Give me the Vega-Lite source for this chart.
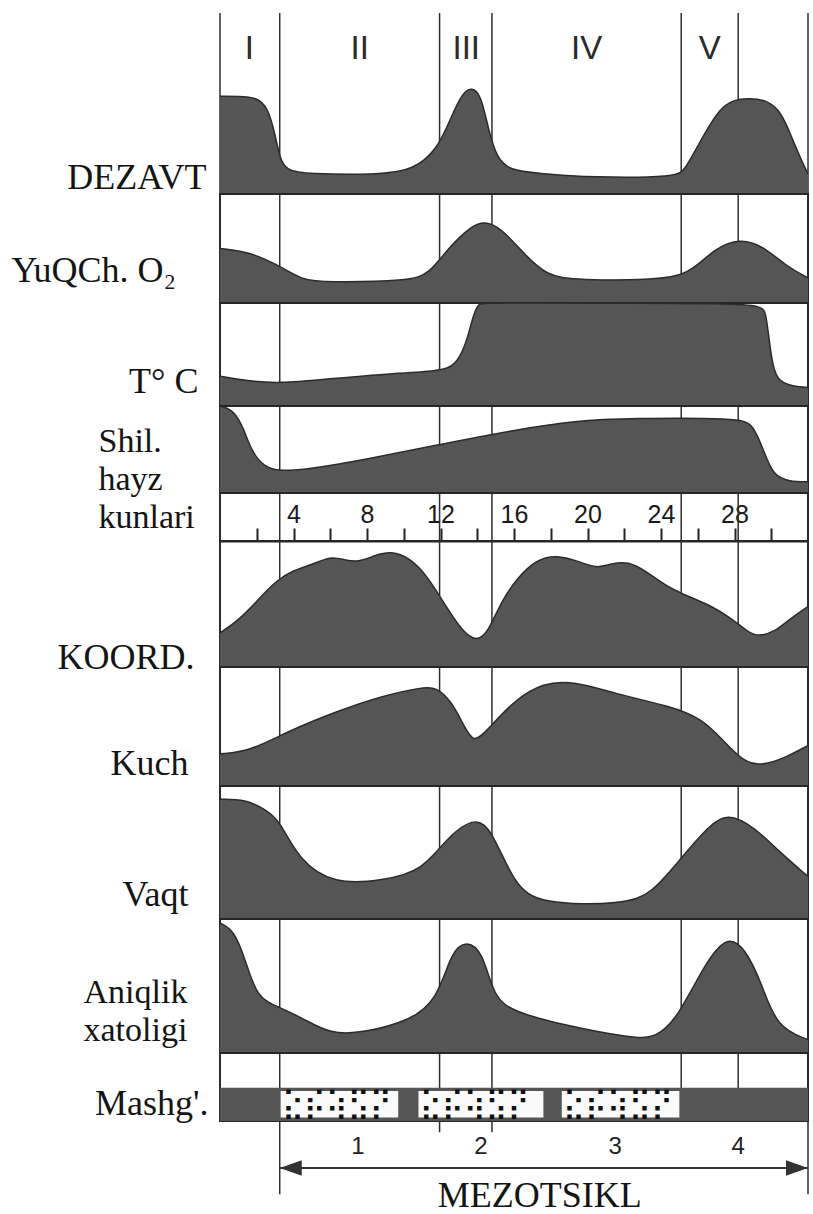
{
  "$schema": "https://vega.github.io/schema/vega-lite/v6.json",
  "background": "white",
  "padding": {"left": 10, "top": 12, "right": 0, "bottom": 0},
  "spacing": 0,
  "bounds": "flush",
  "config": {
    "view": {"stroke": "#262626", "strokeWidth": 2},
    "axisY": {"labels": false, "ticks": false, "domain": false, "grid": false, "titleAngle": 0, "titleFont": "Liberation Serif", "titleFontSize": 36, "titleFontWeight": "normal", "titleColor": "#141414", "titleAlign": "right", "titleBaseline": "middle", "titleLineHeight": 38},
    "area": {"color": "#555555", "opacity": 1, "fillOpacity": 1, "interpolate": "basis", "line": {"color": "#2b2b2b", "strokeWidth": 1.5, "interpolate": "basis"}},
    "rule": {"color": "#2e2e2e", "strokeWidth": 1.5}
  },
  "datasets": {
    "phases": [{"day": 0}, {"day": 3.25}, {"day": 11.95}, {"day": 14.8}, {"day": 25.1}, {"day": 28.2}, {"day": 32}],
    "phaseLabels": [{"phase": "I", "day": 1.6}, {"phase": "II", "day": 7.6}, {"phase": "III", "day": 13.4}, {"phase": "IV", "day": 19.95}, {"phase": "V", "day": 26.65}],
    "dezavt": [{"day": 0, "v": 0.54}, {"day": 1, "v": 0.54}, {"day": 2, "v": 0.535}, {"day": 2.6, "v": 0.48}, {"day": 3.0, "v": 0.33}, {"day": 3.25, "v": 0.2}, {"day": 3.6, "v": 0.13}, {"day": 4.7, "v": 0.11}, {"day": 8.9, "v": 0.107}, {"day": 10.5, "v": 0.135}, {"day": 11.8, "v": 0.24}, {"day": 12.6, "v": 0.43}, {"day": 13.2, "v": 0.56}, {"day": 13.7, "v": 0.59}, {"day": 14.2, "v": 0.55}, {"day": 14.6, "v": 0.36}, {"day": 15.05, "v": 0.2}, {"day": 15.8, "v": 0.13}, {"day": 17.2, "v": 0.115}, {"day": 20.3, "v": 0.09}, {"day": 24.9, "v": 0.093}, {"day": 25.3, "v": 0.135}, {"day": 26.4, "v": 0.34}, {"day": 27.2, "v": 0.47}, {"day": 27.9, "v": 0.52}, {"day": 28.8, "v": 0.53}, {"day": 29.7, "v": 0.52}, {"day": 30.4, "v": 0.47}, {"day": 30.9, "v": 0.37}, {"day": 31.4, "v": 0.24}, {"day": 32, "v": 0.11}],
    "o2": [{"day": 0, "v": 0.5}, {"day": 1.6, "v": 0.47}, {"day": 3.25, "v": 0.34}, {"day": 4.5, "v": 0.21}, {"day": 5.7, "v": 0.19}, {"day": 10.3, "v": 0.2}, {"day": 11.4, "v": 0.27}, {"day": 12.4, "v": 0.5}, {"day": 13.7, "v": 0.71}, {"day": 14.4, "v": 0.75}, {"day": 15.3, "v": 0.69}, {"day": 16.6, "v": 0.44}, {"day": 17.8, "v": 0.25}, {"day": 19.3, "v": 0.21}, {"day": 24.5, "v": 0.21}, {"day": 25.8, "v": 0.31}, {"day": 27.0, "v": 0.51}, {"day": 28.3, "v": 0.59}, {"day": 29.5, "v": 0.53}, {"day": 30.8, "v": 0.34}, {"day": 32, "v": 0.23}],
    "temp": [{"day": 0, "v": 0.29}, {"day": 1.6, "v": 0.24}, {"day": 3.25, "v": 0.22}, {"day": 5.7, "v": 0.26}, {"day": 8.9, "v": 0.31}, {"day": 12.0, "v": 0.34}, {"day": 12.8, "v": 0.39}, {"day": 13.4, "v": 0.6}, {"day": 13.8, "v": 0.9}, {"day": 14.1, "v": 1.0}, {"day": 14.4, "v": 1.0}, {"day": 29.4, "v": 1.0}, {"day": 29.7, "v": 0.95}, {"day": 30.0, "v": 0.45}, {"day": 30.3, "v": 0.24}, {"day": 31.2, "v": 0.19}, {"day": 32, "v": 0.18}],
    "shil": [{"day": 0, "v": 1.0}, {"day": 0.6, "v": 0.97}, {"day": 1.2, "v": 0.8}, {"day": 1.7, "v": 0.48}, {"day": 2.4, "v": 0.3}, {"day": 3.25, "v": 0.25}, {"day": 4.7, "v": 0.27}, {"day": 7.8, "v": 0.38}, {"day": 12.0, "v": 0.56}, {"day": 16.2, "v": 0.73}, {"day": 19.3, "v": 0.83}, {"day": 22.4, "v": 0.86}, {"day": 28.2, "v": 0.86}, {"day": 29.0, "v": 0.8}, {"day": 29.6, "v": 0.48}, {"day": 30.1, "v": 0.2}, {"day": 31.0, "v": 0.13}, {"day": 32, "v": 0.13}],
    "koord": [{"day": 0, "v": 0.27}, {"day": 1, "v": 0.37}, {"day": 2, "v": 0.52}, {"day": 3, "v": 0.68}, {"day": 4, "v": 0.77}, {"day": 5, "v": 0.81}, {"day": 6, "v": 0.88}, {"day": 6.8, "v": 0.85}, {"day": 7.5, "v": 0.83}, {"day": 8.5, "v": 0.89}, {"day": 9.3, "v": 0.92}, {"day": 10.3, "v": 0.87}, {"day": 11.3, "v": 0.72}, {"day": 12.3, "v": 0.48}, {"day": 13.2, "v": 0.28}, {"day": 14.0, "v": 0.2}, {"day": 14.6, "v": 0.28}, {"day": 15.3, "v": 0.52}, {"day": 16.2, "v": 0.71}, {"day": 17.2, "v": 0.85}, {"day": 18.3, "v": 0.89}, {"day": 19.5, "v": 0.84}, {"day": 20.5, "v": 0.78}, {"day": 21.3, "v": 0.82}, {"day": 22.2, "v": 0.84}, {"day": 23.2, "v": 0.76}, {"day": 24.3, "v": 0.64}, {"day": 25.5, "v": 0.56}, {"day": 26.8, "v": 0.48}, {"day": 27.8, "v": 0.39}, {"day": 28.7, "v": 0.28}, {"day": 29.3, "v": 0.24}, {"day": 30.2, "v": 0.28}, {"day": 31, "v": 0.38}, {"day": 32, "v": 0.48}],
    "kuch": [{"day": 0, "v": 0.27}, {"day": 1.6, "v": 0.29}, {"day": 3.7, "v": 0.46}, {"day": 6.4, "v": 0.63}, {"day": 8.9, "v": 0.76}, {"day": 11.0, "v": 0.83}, {"day": 11.8, "v": 0.83}, {"day": 12.6, "v": 0.71}, {"day": 13.3, "v": 0.5}, {"day": 13.8, "v": 0.36}, {"day": 14.5, "v": 0.46}, {"day": 16.0, "v": 0.72}, {"day": 17.6, "v": 0.87}, {"day": 19.3, "v": 0.88}, {"day": 21.4, "v": 0.78}, {"day": 24.5, "v": 0.67}, {"day": 26.2, "v": 0.57}, {"day": 27.4, "v": 0.38}, {"day": 28.5, "v": 0.2}, {"day": 29.5, "v": 0.17}, {"day": 30.8, "v": 0.24}, {"day": 32, "v": 0.34}],
    "vaqt": [{"day": 0, "v": 0.9}, {"day": 1.4, "v": 0.9}, {"day": 2.5, "v": 0.82}, {"day": 3.25, "v": 0.74}, {"day": 4.3, "v": 0.44}, {"day": 6.2, "v": 0.26}, {"day": 8.9, "v": 0.29}, {"day": 11.0, "v": 0.36}, {"day": 12.4, "v": 0.62}, {"day": 13.9, "v": 0.77}, {"day": 14.8, "v": 0.67}, {"day": 16.0, "v": 0.26}, {"day": 17.4, "v": 0.11}, {"day": 22.0, "v": 0.11}, {"day": 23.5, "v": 0.19}, {"day": 25.1, "v": 0.46}, {"day": 26.6, "v": 0.7}, {"day": 27.6, "v": 0.8}, {"day": 29.1, "v": 0.69}, {"day": 30.4, "v": 0.51}, {"day": 32, "v": 0.32}],
    "aniqlik": [{"day": 0, "v": 0.97}, {"day": 0.75, "v": 0.92}, {"day": 1.4, "v": 0.69}, {"day": 2.0, "v": 0.41}, {"day": 3.25, "v": 0.34}, {"day": 4.5, "v": 0.26}, {"day": 6.0, "v": 0.14}, {"day": 7.8, "v": 0.15}, {"day": 10.3, "v": 0.24}, {"day": 11.8, "v": 0.39}, {"day": 12.6, "v": 0.76}, {"day": 13.4, "v": 0.84}, {"day": 14.3, "v": 0.76}, {"day": 14.9, "v": 0.41}, {"day": 16.0, "v": 0.31}, {"day": 18.3, "v": 0.22}, {"day": 22.4, "v": 0.11}, {"day": 23.7, "v": 0.11}, {"day": 24.9, "v": 0.26}, {"day": 26.4, "v": 0.67}, {"day": 27.6, "v": 0.88}, {"day": 28.6, "v": 0.78}, {"day": 29.5, "v": 0.51}, {"day": 30.3, "v": 0.19}, {"day": 32, "v": 0.1}],
    "trainingBase": [{"start": 0, "end": 32}],
    "training": [{"block": "1", "start": 3.3, "end": 9.7}, {"block": "2", "start": 10.8, "end": 17.6}, {"block": "3", "start": 18.6, "end": 25.0}],
    "mesocycle": [{"n": "1", "day": 7.5}, {"n": "2", "day": 14.2}, {"n": "3", "day": 21.5}, {"n": "4", "day": 28.2}],
    "arrow": [{"from": 3.25, "to": 32}],
    "arrowHeads": [{"day": 3.25, "dir": "left"}, {"day": 32, "dir": "right"}]
  },
  "vconcat": [
    {
      "width": 588, "height": 181, "view": {"stroke": null},
      "layer": [
        {"data": {"name": "phases"}, "mark": "rule", "encoding": {"x": {"field": "day", "type": "quantitative", "scale": {"domain": [0, 32], "nice": false}, "axis": null}}},
        {"data": {"name": "dezavt"}, "mark": {"type": "area", "opacity": 1, "fillOpacity": 1}, "encoding": {"x": {"field": "day", "type": "quantitative", "scale": {"domain": [0, 32], "nice": false}, "axis": null}, "y": {"field": "v", "type": "quantitative", "scale": {"domain": [0, 1], "nice": false}, "axis": {"title": "DEZAVT", "titleX": -14, "titleY": 164}}}},
        {"data": {"name": "phaseLabels"}, "mark": {"type": "text", "font": "Liberation Sans Narrow, Liberation Sans, sans-serif", "fontSize": 33, "color": "#2a2a2a", "baseline": "middle"}, "encoding": {"x": {"field": "day", "type": "quantitative", "scale": {"domain": [0, 32], "nice": false}, "axis": null}, "y": {"datum": 0.8, "type": "quantitative", "scale": {"domain": [0, 1], "nice": false}}, "text": {"field": "phase"}}}
      ]
    },
    {
      "width": 588, "height": 109,
      "layer": [
        {"data": {"name": "phases"}, "mark": "rule", "encoding": {"x": {"field": "day", "type": "quantitative", "scale": {"domain": [0, 32], "nice": false}, "axis": null}}},
        {"data": {"name": "o2"}, "mark": {"type": "area", "opacity": 1, "fillOpacity": 1}, "encoding": {"x": {"field": "day", "type": "quantitative", "scale": {"domain": [0, 32], "nice": false}, "axis": null}, "y": {"field": "v", "type": "quantitative", "scale": {"domain": [0, 1], "nice": false}, "axis": {"title": "YuQCh. O₂", "titleAlign": "left", "titleX": -209, "titleY": 76}}}}
      ]
    },
    {
      "width": 588, "height": 103,
      "layer": [
        {"data": {"name": "phases"}, "mark": "rule", "encoding": {"x": {"field": "day", "type": "quantitative", "scale": {"domain": [0, 32], "nice": false}, "axis": null}}},
        {"data": {"name": "temp"}, "mark": {"type": "area", "opacity": 1, "fillOpacity": 1}, "encoding": {"x": {"field": "day", "type": "quantitative", "scale": {"domain": [0, 32], "nice": false}, "axis": null}, "y": {"field": "v", "type": "quantitative", "scale": {"domain": [0, 1], "nice": false}, "axis": {"title": "T° C", "titleX": -22, "titleY": 78}}}}
      ]
    },
    {
      "width": 588, "height": 87,
      "layer": [
        {"data": {"name": "phases"}, "mark": "rule", "encoding": {"x": {"field": "day", "type": "quantitative", "scale": {"domain": [0, 32], "nice": false}, "axis": null}}},
        {"data": {"name": "shil"}, "mark": {"type": "area", "opacity": 1, "fillOpacity": 1}, "encoding": {"x": {"field": "day", "type": "quantitative", "scale": {"domain": [0, 32], "nice": false}, "axis": null}, "y": {"field": "v", "type": "quantitative", "scale": {"domain": [0, 1], "nice": false}, "axis": {"title": ["Shil.", "hayz", "kunlari"], "titleFontSize": 34, "titleAlign": "left", "titleBaseline": "top", "titleX": -122, "titleY": 18}}}}
      ]
    },
    {
      "width": 588, "height": 48,
      "layer": [
        {"data": {"name": "phases"}, "mark": "rule", "encoding": {"x": {"field": "day", "type": "quantitative", "scale": {"domain": [0, 32], "nice": false}, "axis": {"orient": "top", "offset": -48, "values": [2, 4, 6, 8, 10, 12, 14, 16, 18, 20, 22, 24, 26, 28, 30], "labelExpr": "datum.value % 4 === 0 ? datum.label : ''", "tickSize": 13, "tickWidth": 2, "tickColor": "#222", "domainColor": "#222", "domainWidth": 2, "labelFont": "Liberation Sans Narrow, Liberation Sans, sans-serif", "labelFontSize": 25, "labelColor": "#1a1a1a", "labelPadding": 1, "labelFlush": false, "labelOverlap": false, "grid": false, "title": null}}}}
      ]
    },
    {
      "width": 588, "height": 126,
      "layer": [
        {"data": {"name": "phases"}, "mark": "rule", "encoding": {"x": {"field": "day", "type": "quantitative", "scale": {"domain": [0, 32], "nice": false}, "axis": null}}},
        {"data": {"name": "koord"}, "mark": {"type": "area", "opacity": 1, "fillOpacity": 1}, "encoding": {"x": {"field": "day", "type": "quantitative", "scale": {"domain": [0, 32], "nice": false}, "axis": null}, "y": {"field": "v", "type": "quantitative", "scale": {"domain": [0, 1], "nice": false}, "axis": {"title": "KOORD.", "titleX": -26, "titleY": 116}}}}
      ]
    },
    {
      "width": 588, "height": 119,
      "layer": [
        {"data": {"name": "phases"}, "mark": "rule", "encoding": {"x": {"field": "day", "type": "quantitative", "scale": {"domain": [0, 32], "nice": false}, "axis": null}}},
        {"data": {"name": "kuch"}, "mark": {"type": "area", "opacity": 1, "fillOpacity": 1}, "encoding": {"x": {"field": "day", "type": "quantitative", "scale": {"domain": [0, 32], "nice": false}, "axis": null}, "y": {"field": "v", "type": "quantitative", "scale": {"domain": [0, 1], "nice": false}, "axis": {"title": "Kuch", "titleX": -32, "titleY": 96}}}}
      ]
    },
    {
      "width": 588, "height": 133,
      "layer": [
        {"data": {"name": "phases"}, "mark": "rule", "encoding": {"x": {"field": "day", "type": "quantitative", "scale": {"domain": [0, 32], "nice": false}, "axis": null}}},
        {"data": {"name": "vaqt"}, "mark": {"type": "area", "opacity": 1, "fillOpacity": 1}, "encoding": {"x": {"field": "day", "type": "quantitative", "scale": {"domain": [0, 32], "nice": false}, "axis": null}, "y": {"field": "v", "type": "quantitative", "scale": {"domain": [0, 1], "nice": false}, "axis": {"title": "Vaqt", "titleX": -32, "titleY": 108}}}}
      ]
    },
    {
      "width": 588, "height": 134,
      "layer": [
        {"data": {"name": "phases"}, "mark": "rule", "encoding": {"x": {"field": "day", "type": "quantitative", "scale": {"domain": [0, 32], "nice": false}, "axis": null}}},
        {"data": {"name": "aniqlik"}, "mark": {"type": "area", "opacity": 1, "fillOpacity": 1}, "encoding": {"x": {"field": "day", "type": "quantitative", "scale": {"domain": [0, 32], "nice": false}, "axis": null}, "y": {"field": "v", "type": "quantitative", "scale": {"domain": [0, 1], "nice": false}, "axis": {"title": ["Aniqlik", "xatoligi"], "titleFontSize": 34, "titleAlign": "left", "titleBaseline": "top", "titleX": -137, "titleY": 56}}}}
      ]
    },
    {
      "width": 588, "height": 68,
      "layer": [
        {"data": {"name": "phases"}, "mark": "rule", "encoding": {"x": {"field": "day", "type": "quantitative", "scale": {"domain": [0, 32], "nice": false}, "axis": null}}},
        {"data": {"name": "trainingBase"}, "mark": {"type": "rect", "color": "#555555"}, "encoding": {"x": {"field": "start", "type": "quantitative", "scale": {"domain": [0, 32], "nice": false}, "axis": null}, "x2": {"field": "end"}, "y": {"datum": 0, "type": "quantitative", "scale": {"domain": [0, 1], "nice": false}, "axis": {"title": "Mashg'.", "titleX": -12, "titleY": 50}}, "y2": {"datum": 0.49}}},
        {"data": {"name": "training"}, "mark": {"type": "rect", "color": "#fafafa"}, "encoding": {"x": {"field": "start", "type": "quantitative", "scale": {"domain": [0, 32], "nice": false}, "axis": null}, "x2": {"field": "end"}, "y": {"datum": 0.05, "type": "quantitative", "scale": {"domain": [0, 1], "nice": false}}, "y2": {"datum": 0.44}}},
        {"data": {"name": "training"}, "mark": {"type": "text", "text": "⣕⡮⢵⣫⡝⣪⢗⡵⣹⢮⡳⣕⢽⡪⣳⢕⡯⣝", "font": "DejaVu Sans", "fontSize": 30, "color": "#111", "align": "left", "baseline": "middle", "dx": 1, "limit": 118, "ellipsis": "\u200b"}, "encoding": {"x": {"field": "start", "type": "quantitative", "scale": {"domain": [0, 32], "nice": false}, "axis": null}, "y": {"datum": 0.245, "type": "quantitative", "scale": {"domain": [0, 1], "nice": false}}}}
      ]
    },
    {
      "width": 588, "height": 94, "view": {"stroke": null},
      "layer": [
        {"data": {"name": "phases"}, "transform": [{"filter": "datum.day == 3.25 || datum.day == 32"}], "mark": "rule", "encoding": {"x": {"field": "day", "type": "quantitative", "scale": {"domain": [0, 32], "nice": false}, "axis": null}, "y": {"datum": 1, "type": "quantitative", "scale": {"domain": [0, 1], "nice": false}, "axis": null}, "y2": {"datum": 0.22}}},
        {"data": {"name": "phases"}, "transform": [{"filter": "datum.day == 11.95 || datum.day == 14.8"}], "mark": "rule", "encoding": {"x": {"field": "day", "type": "quantitative", "scale": {"domain": [0, 32], "nice": false}, "axis": null}, "y": {"datum": 1, "type": "quantitative", "scale": {"domain": [0, 1], "nice": false}, "axis": null}, "y2": {"datum": 0.88}}},
        {"data": {"name": "arrow"}, "mark": {"type": "rule", "strokeWidth": 2, "color": "#333"}, "encoding": {"x": {"field": "from", "type": "quantitative", "scale": {"domain": [0, 32], "nice": false}, "axis": null}, "x2": {"field": "to"}, "y": {"datum": 0.5, "type": "quantitative", "scale": {"domain": [0, 1], "nice": false}, "axis": null}}},
        {"data": {"name": "arrowHeads"}, "mark": {"type": "point", "filled": true, "opacity": 1, "color": "#333", "size": 484}, "encoding": {"x": {"field": "day", "type": "quantitative", "scale": {"domain": [0, 32], "nice": false}, "axis": null}, "y": {"datum": 0.5, "type": "quantitative", "scale": {"domain": [0, 1], "nice": false}, "axis": null}, "shape": {"field": "dir", "type": "nominal", "scale": {"domain": ["left", "right"], "range": ["M0,0L2,-0.7L2,0.7Z", "M0,0L-2,-0.7L-2,0.7Z"]}, "legend": null}}},
        {"data": {"name": "mesocycle"}, "mark": {"type": "text", "font": "Liberation Sans", "fontSize": 24, "color": "#222", "baseline": "middle"}, "encoding": {"x": {"field": "day", "type": "quantitative", "scale": {"domain": [0, 32], "nice": false}, "axis": null}, "y": {"datum": 0.72, "type": "quantitative", "scale": {"domain": [0, 1], "nice": false}, "axis": null}, "text": {"field": "n"}}},
        {"data": {"name": "arrow"}, "mark": {"type": "text", "text": "MEZOTSIKL", "font": "Liberation Serif", "fontSize": 36, "color": "#141414", "baseline": "middle"}, "encoding": {"x": {"datum": 17.4, "type": "quantitative", "scale": {"domain": [0, 32], "nice": false}, "axis": null}, "y": {"datum": 0.2, "type": "quantitative", "scale": {"domain": [0, 1], "nice": false}, "axis": null}}}
      ]
    }
  ]
}
